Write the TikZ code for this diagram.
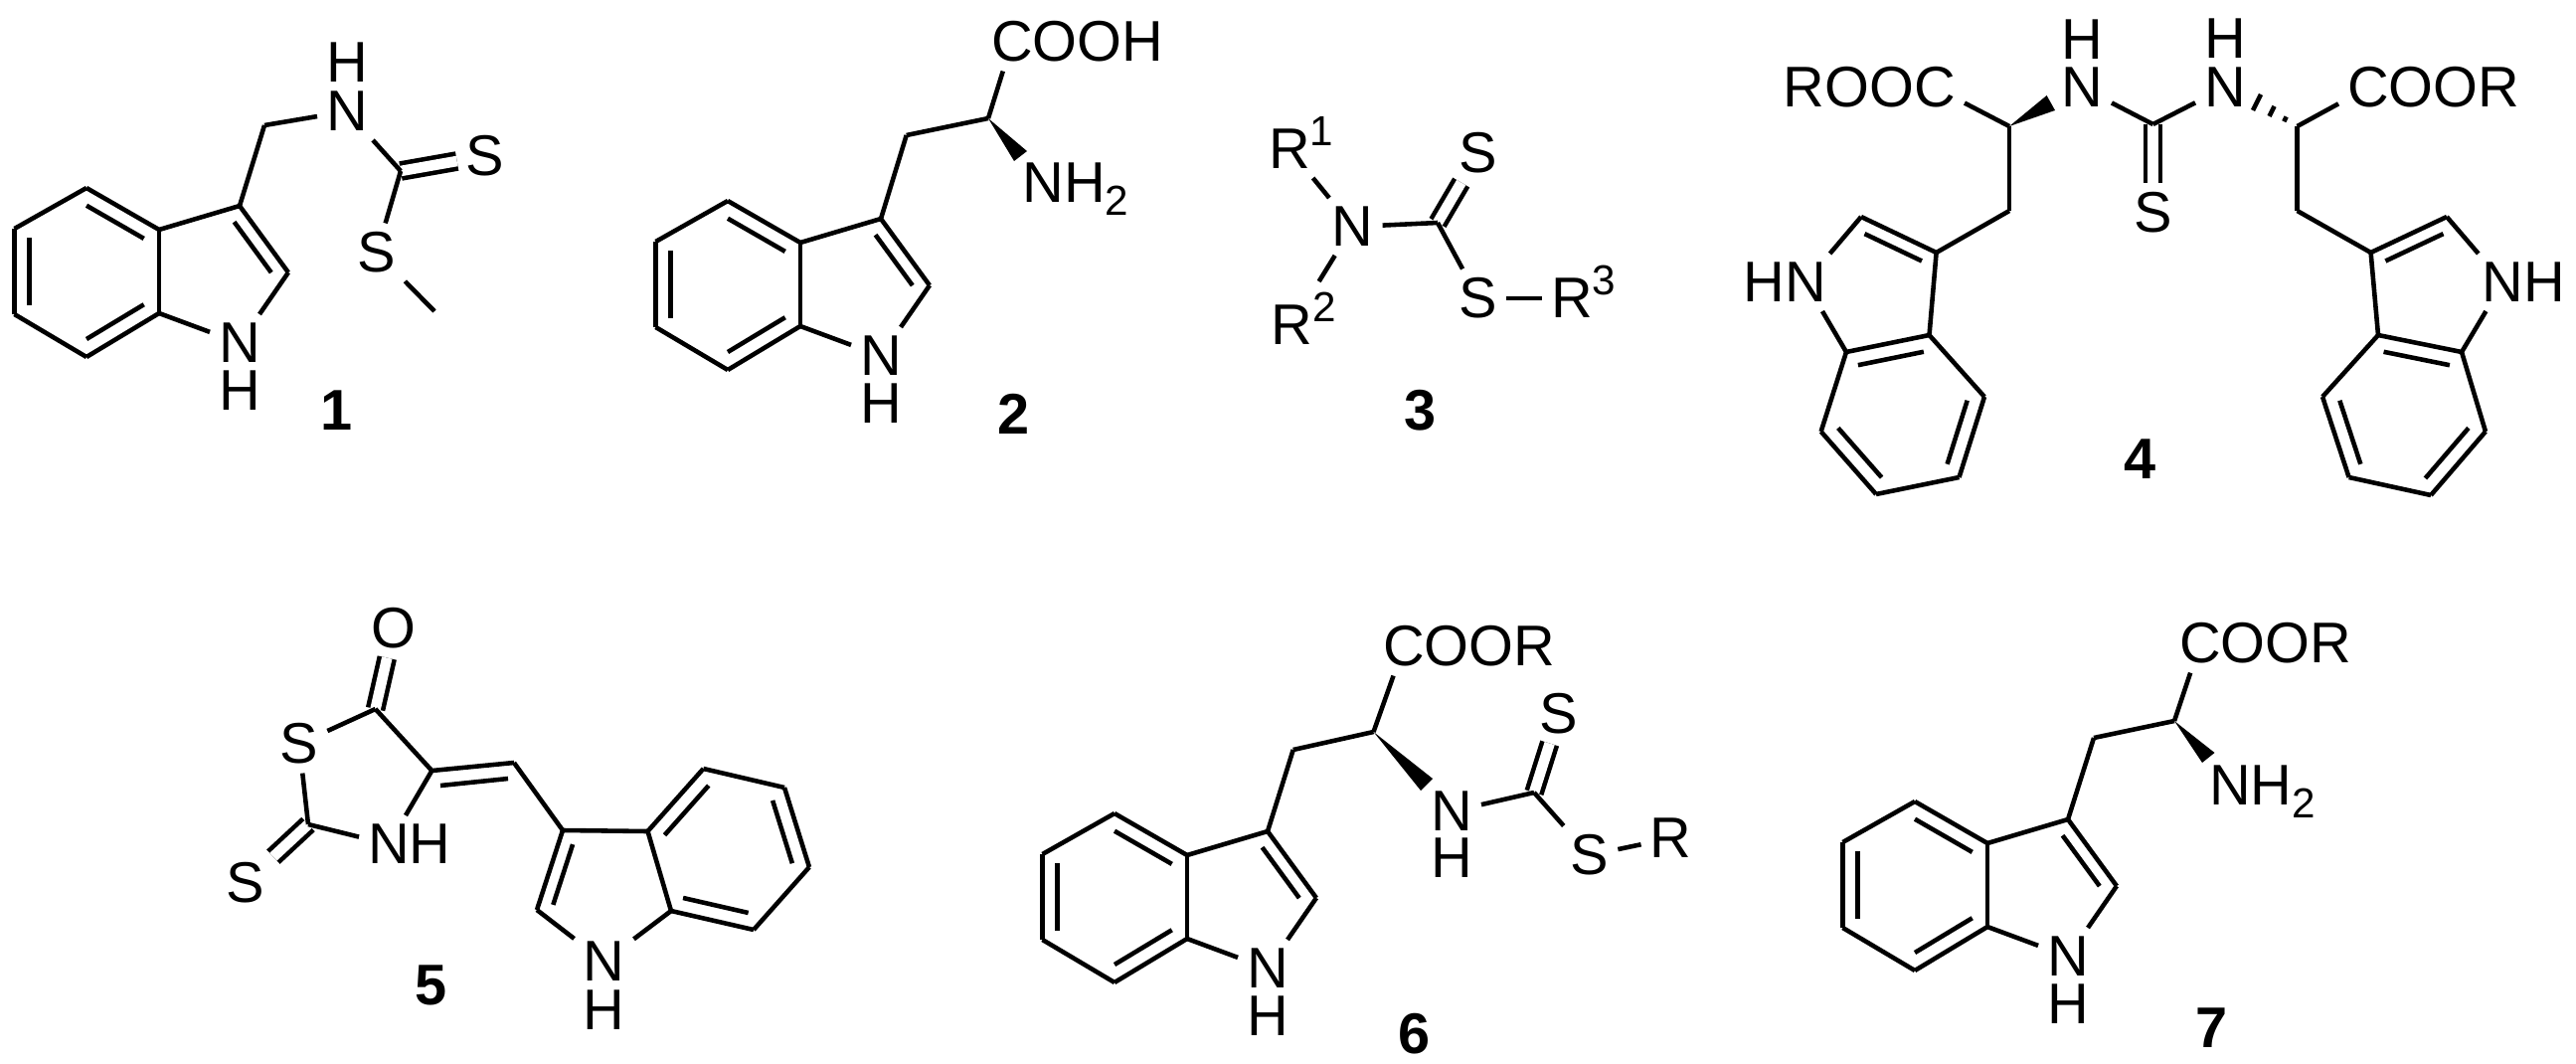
\documentclass[tikz,border=0pt]{standalone}
\usepackage{fontspec}
\setmainfont{Liberation Sans}
\usetikzlibrary{positioning,calc}

\begin{document}
\begin{tikzpicture}[x=0.01cm,y=-0.01cm,line width=1.3pt,line join=round]
\tikzset{atm/.style={inner sep=2.6pt,outer sep=0pt,font=\fontsize{16.4}{18}\selectfont},
	tail/.style={inner sep=0pt,outer sep=0pt,font=\fontsize{16.4}{18}\selectfont},
	sups/.style={inner sep=0pt,outer sep=0pt,font=\fontsize{12}{14}\selectfont},
	lab/.style={inner sep=0pt,font=\fontsize{16.4}{18}\selectfont\bfseries},
	dbl/.style={double,double distance=3pt,line cap=butt}}
\useasboundingbox (0,0) rectangle (2591,1070);

\foreach \m/\dx/\dy in {p/0/0,q/645/13,t/1034/629,v/1839/617}
{
	\coordinate (\m1) at (160+\dx,231+\dy);
	\coordinate (\m2) at (87+\dx,189+\dy);
	\coordinate (\m3) at (14.5+\dx,230+\dy);
	\coordinate (\m4) at (14.5+\dx,316+\dy);
	\coordinate (\m5) at (87+\dx,359+\dy);
	\coordinate (\m6) at (160+\dx,315+\dy);
	\coordinate (\m7) at (241+\dx,207+\dy);
	\coordinate (\m8) at (290+\dx,274+\dy);
	\node[atm] (\m n) at (241+\dx,345+\dy) {N};
	\node[atm] (\m h) at (241+\dx,393+\dy) {H};
}

\coordinate (e1) at (651.5,836);
\coordinate (e2) at (707.5,773);
\coordinate (e3) at (789,792);
\coordinate (e4) at (814,872);
\coordinate (e5) at (758,935);
\coordinate (e6) at (675,916);
\coordinate (e7) at (566,835);
\coordinate (e8) at (540,915);
\node[atm] (en) at (607.5,967) {N};
\node[atm] (eh) at (607.5,1016) {H};

\coordinate (l1) at (1940.5,337);
\coordinate (l2) at (1996,399);
\coordinate (l3) at (1970.5,480);
\coordinate (l4) at (1887,497);
\coordinate (l5) at (1831.6,434);
\coordinate (l6) at (1857,354);
\coordinate (l7) at (1947.6,254);
\coordinate (l8) at (1872,218);
\node[atm] (ln) at (1816,284) {N};
\node[tail,base left=-2.6pt of ln] (lh) {H};

\coordinate (w1) at (2392,337);
\coordinate (w2) at (2336,399);
\coordinate (w3) at (2362.6,480);
\coordinate (w4) at (2445,498);
\coordinate (w5) at (2500,434);
\coordinate (w6) at (2476,354);
\coordinate (w7) at (2384.6,254);
\coordinate (w8) at (2461,218);
\node[atm] (wn) at (2517.6,284) {N};
\node[tail,base right=-2.6pt of wn] (wh) {H};

\foreach \m in {p,q,t,v,e,l,w}
{
	\coordinate (\m bz) at (barycentric cs:\m1=1,\m2=1,\m3=1,\m4=1,\m5=1,\m6=1);
	\coordinate (\m py) at (barycentric cs:\m1=1,\m6=1,\m7=1,\m8=1,\m n=1);
	\foreach \from/\to in {\m1/\m2,\m2/\m3,\m3/\m4,\m4/\m5,\m5/\m6,\m6/\m1,\m1/\m7,\m7/\m8,\m8/\m n,\m n/\m6}
	{
		\draw (\from) -- (\to);
	}
	\draw ($(\m7)!.24!(\m py)$) -- ($(\m8)!.24!(\m py)$);
}
\foreach \m in {p,q,t,v,e}
{
	\foreach \from/\to in {\m1/\m2,\m3/\m4,\m5/\m6}
	{
		\draw ($(\from)!.21!(\m bz)$) -- ($(\to)!.21!(\m bz)$);
	}
}
\foreach \m in {l,w}
{
	\foreach \from/\to in {\m1/\m6,\m2/\m3,\m4/\m5}
	{
		\draw ($(\from)!.21!(\m bz)$) -- ($(\to)!.21!(\m bz)$);
	}
}

\coordinate (pa) at (266,126);
\node[atm] (pnn) at (349,112) {N};
\node[atm] (phh) at (349,63) {H};
\coordinate (pc) at (403,172);
\node[atm] (ps1) at (488,157) {S};
\node[atm] (ps2) at (379,254) {S};
\coordinate (pe) at (437,313);
\node[lab] (lab1) at (339,413) {1};

\coordinate (qa) at (911.7,136);
\coordinate (qm) at (994,119);
\node[atm] (qc) at (1018,42) {C};
\node[tail,base right=-2.6pt of qc] (qo) {OOH};
\node[atm] (qnn) at (1049.5,184) {N};
\node[tail,base right=-2.6pt of qnn] (qhh) {H};
\node[sups,base right=0pt of qhh,yshift=-3.5pt] (qsub) {2};
\coordinate (qw1) at (1033,152);
\coordinate (qw2) at (1020,162);
\node[lab] (lab2) at (1020,416) {2};

\node[atm] (r1) at (1297,150) {R};
\node[sups,base right=-2.6pt of r1,yshift=6.6pt] (r1s) {1};
\node[atm] (xn) at (1360.6,228) {N};
\node[atm] (r2) at (1299.5,327) {R};
\node[sups,base right=-2.6pt of r2,yshift=6.6pt] (r2s) {2};
\coordinate (xc) at (1446,224);
\node[atm] (xs1) at (1487,154) {S};
\node[atm] (xs2) at (1487,300) {S};
\node[atm] (r3) at (1581,300) {R};
\node[sups,base right=-2.6pt of r3,yshift=6.6pt] (r3s) {3};
\node[lab] (lab3) at (1428.5,413) {3};

\node[atm] (lc) at (1946,88) {C};
\node[tail,base left=-2.6pt of lc] (lo) {ROO};
\coordinate (lm) at (2021,127);
\coordinate (la) at (2021,212);
\coordinate (lw1) at (2058.6,96);
\coordinate (lw2) at (2067,111);
\node[atm] (lnn) at (2094,88) {N};
\node[atm] (lhh) at (2094,40) {H};
\coordinate (uc) at (2165.6,125);
\node[atm] (us) at (2165.6,214) {S};
\node[atm] (wnn) at (2238,88) {N};
\node[atm] (whh) at (2238,39) {H};
\coordinate (wm) at (2310.6,127);
\coordinate (wa) at (2310.6,212);
\coordinate (wh1) at (2274,95);
\coordinate (wh2) at (2266,111);
\node[atm] (wc) at (2382,88) {C};
\node[tail,base right=-2.6pt of wc] (wo) {OOR};
\node[lab] (lab4) at (2153,462) {4};

\node[atm] (eo) at (396,632) {O};
\coordinate (ec) at (377.6,713);
\node[atm] (es1) at (301,748) {S};
\coordinate (ed) at (310,829);
\node[atm] (es2) at (246.5,888) {S};
\node[atm] (enn) at (391,849) {N};
\node[tail,base right=-2.6pt of enn] (ehh) {H};
\coordinate (ef) at (434.4,775);
\coordinate (eg) at (517,767);
\coordinate (ei1) at (443,790);
\coordinate (ei2) at (511,783);
\node[lab] (lab5) at (433.6,991) {5};

\coordinate (ta) at (1300.7,754);
\coordinate (tm) at (1381.5,736);
\node[atm] (tc) at (1412,650) {C};
\node[tail,base right=-2.6pt of tc] (to) {OOR};
\coordinate (tw1) at (1441,783);
\coordinate (tw2) at (1429,795);
\node[atm] (tnn) at (1460,816) {N};
\node[atm] (thh) at (1460,863) {H};
\coordinate (td) at (1543,797);
\node[atm] (ts1) at (1568,718) {S};
\node[atm] (ts2) at (1599,860) {S};
\node[atm] (tr) at (1680.5,843) {R};
\node[lab] (lab6) at (1423,1040) {6};

\coordinate (va) at (2106,742);
\coordinate (vm) at (2187,725);
\node[atm] (vc) at (2213,647) {C};
\node[tail,base right=-2.6pt of vc] (vo) {OOR};
\node[atm] (vnn) at (2243,790) {N};
\node[tail,base right=-2.6pt of vnn] (vhh) {H};
\node[sups,base right=0pt of vhh,yshift=-3.5pt] (vsub) {2};
\coordinate (vw1) at (2227.5,757);
\coordinate (vw2) at (2215,767);
\node[lab] (lab7) at (2225,1034) {7};

\foreach \from/\to in {pc/ps1,xc/xs1,uc/us,ec/eo,ed/es2,td/ts1}
{
	\draw[dbl] (\from) -- (\to);
}
\foreach \from/\to in {p7/pa,pa/pnn,pnn/pc,pc/ps2,ps2/pe,q7/qa,qa/qm,qm/qc,xn/r1,xn/xc,xc/xs2,xs2/r3,l7/la,la/lm,lm/lc,lnn/uc,uc/wnn,w7/wa,wa/wm,wm/wc,ec/es1,es1/ed,ed/enn,enn/ef,ef/ec,ef/eg,eg/e7,ei1/ei2,t7/ta,ta/tm,tm/tc,tnn/td,td/ts2,ts2/tr,v7/va,va/vm,vm/vc}
{
	\draw (\from) -- (\to);
}
\draw[shorten >=5pt] (xn) -- (r2);
\foreach \tip/\ea/\eb in {qm/qw1/qw2,lm/lw1/lw2,tm/tw1/tw2,vm/vw1/vw2}
{
	\fill (\tip) -- (\ea) -- (\eb) -- cycle;
}
\foreach \t in {.3,.63,1}
{
	\draw ($(wm)!\t!(wh1)$) -- ($(wm)!\t!(wh2)$);
}

\end{tikzpicture}
\end{document}
